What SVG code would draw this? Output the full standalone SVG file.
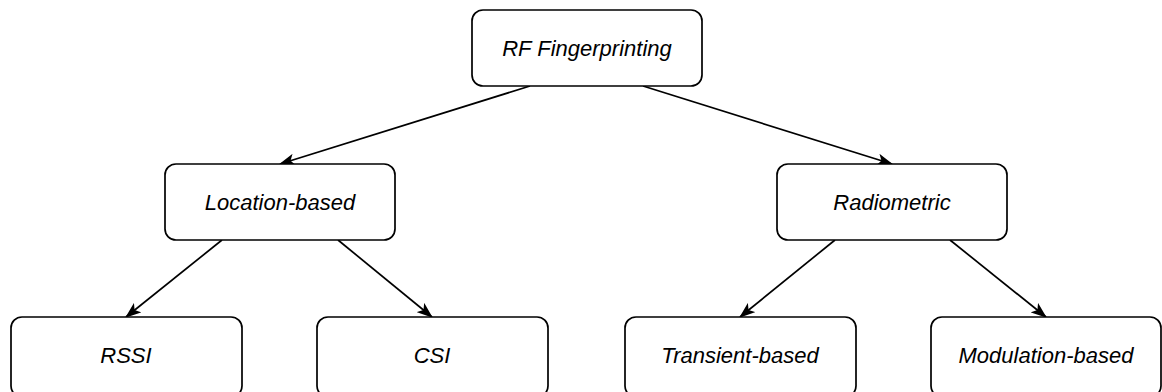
<svg xmlns="http://www.w3.org/2000/svg" width="1162" height="392" viewBox="0 0 1162 392">
<style>
.box{fill:#fff;stroke:#000;stroke-width:1.7}
.lbl{font-family:"Liberation Sans",Arial,sans-serif;font-style:italic;font-size:22px;fill:#000;text-anchor:middle;dominant-baseline:central}
.edge{stroke:#000;stroke-width:1.7;fill:none;marker-end:url(#arr)}
</style>
<defs>
<marker id="arr" viewBox="0 0 16 12" refX="15" refY="6" markerWidth="16" markerHeight="12" markerUnits="userSpaceOnUse" orient="auto">
<path d="M0,0 L16,6 L0,12 L4,6 Z" fill="#000"/>
</marker>
</defs>
<g id="connectors">
<line class="edge" x1="530" y1="86" x2="280" y2="164"/>
<line class="edge" x1="643" y1="86" x2="892" y2="164"/>
<line class="edge" x1="222" y1="240" x2="126" y2="317"/>
<line class="edge" x1="338" y1="240" x2="432" y2="317"/>
<line class="edge" x1="835" y1="240" x2="740" y2="317"/>
<line class="edge" x1="950" y1="240" x2="1046" y2="317"/>
</g>
<g id="rf"><rect class="box" x="472" y="10" width="230" height="76" rx="11"/><text class="lbl" x="587" y="48">RF Fingerprinting</text></g>
<g id="loc"><rect class="box" x="165" y="164" width="230" height="76" rx="11"/><text class="lbl" x="280" y="202">Location-based</text></g>
<g id="radio"><rect class="box" x="777" y="164" width="230" height="76" rx="11"/><text class="lbl" x="892" y="202">Radiometric</text></g>
<g id="rssi"><rect class="box" x="11" y="317" width="231" height="80" rx="11"/><text class="lbl" x="126" y="355">RSSI</text></g>
<g id="csi"><rect class="box" x="317" y="317" width="231" height="80" rx="11"/><text class="lbl" x="432" y="355">CSI</text></g>
<g id="transient"><rect class="box" x="625" y="317" width="231" height="80" rx="11"/><text class="lbl" x="740" y="355">Transient-based</text></g>
<g id="modulation"><rect class="box" x="931" y="317" width="230" height="80" rx="11"/><text class="lbl" x="1046" y="355">Modulation-based</text></g>
</svg>
